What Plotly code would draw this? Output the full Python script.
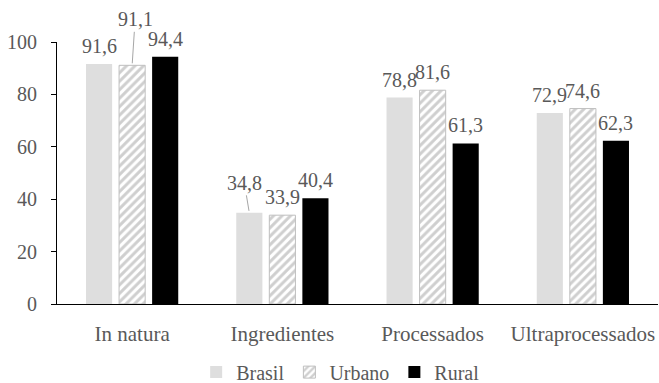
import plotly.graph_objects as go

categories = ["In natura", "Ingredientes", "Processados", "Ultraprocessados"]
series_names = ["Brasil", "Urbano", "Rural"]
brasil = [91.6, 34.8, 78.8, 72.9]
urbano = [91.1, 33.9, 81.6, 74.6]
rural = [94.4, 40.4, 61.3, 62.3]
y_ticks = [0, 20, 40, 60, 80, 100]

FONT = "Liberation Serif"
TXT = "#595959"
FS = 20
BARGAP = 0.34
BARGROUPGAP = 0.21

xs = list(range(len(categories)))
values = [brasil, urbano, rural]

fig = go.Figure()
fig.add_trace(go.Bar(name=series_names[0], x=xs, y=brasil,
                     marker=dict(color="#dedede", line=dict(width=0))))
fig.add_trace(go.Bar(name=series_names[1], x=xs, y=urbano,
                     marker=dict(color="white",
                                 line=dict(color="#bfbfbf", width=1),
                                 pattern=dict(shape="/", fgcolor="#a0a0a0", bgcolor="white",
                                              size=6, solidity=0.5))))
fig.add_trace(go.Bar(name=series_names[2], x=xs, y=rural,
                     marker=dict(color="black", line=dict(width=0))))

slot = (1 - BARGAP) / 3
special = {(1, 0): (3, -46), (0, 1): (-5, -30)}
annotations = []
for si, vals in enumerate(values):
    for ci, v in enumerate(vals):
        xpos = ci + (si - 1) * slot
        txt = f"{v:.1f}".replace(".", ",")
        if (si, ci) in special:
            ax, ay = special[(si, ci)]
            annotations.append(dict(x=xpos, y=v, text=txt, showarrow=True, arrowhead=0,
                                    arrowwidth=1, arrowcolor="#a6a6a6", ax=ax, ay=ay,
                                    standoff=2, font=dict(family=FONT, size=FS, color=TXT)))
        else:
            annotations.append(dict(x=xpos, y=v, text=txt, showarrow=False,
                                    yanchor="middle", yshift=18,
                                    font=dict(family=FONT, size=FS, color=TXT)))

fig.update_layout(
    width=659, height=383,
    margin=dict(l=57, r=1, t=42, b=79, autoexpand=False),
    paper_bgcolor="white", plot_bgcolor="white",
    barmode="group", bargap=BARGAP, bargroupgap=BARGROUPGAP,
    font=dict(family=FONT, size=FS, color=TXT),
    annotations=annotations,
    showlegend=True,
    legend=dict(orientation="h", x=0.472, xanchor="center", y=-0.26, yanchor="middle",
                font=dict(family=FONT, size=FS, color=TXT), itemwidth=30,
                traceorder="normal"),
    xaxis=dict(range=[-0.5, len(categories) - 0.5], tickvals=xs, ticktext=categories,
               showline=True, linecolor="black", linewidth=1, ticks="",
               showgrid=False, zeroline=False, ticklabelstandoff=11,
               tickfont=dict(family=FONT, size=21, color=TXT)),
    yaxis=dict(range=[0, 100], tickvals=y_ticks, showline=True, linecolor="black",
               linewidth=1, ticks="outside", ticklen=5, tickcolor="black",
               showgrid=False, zeroline=False, ticklabelstandoff=10,
               tickfont=dict(family=FONT, size=FS, color=TXT)),
)

fig.write_html("out.html")
